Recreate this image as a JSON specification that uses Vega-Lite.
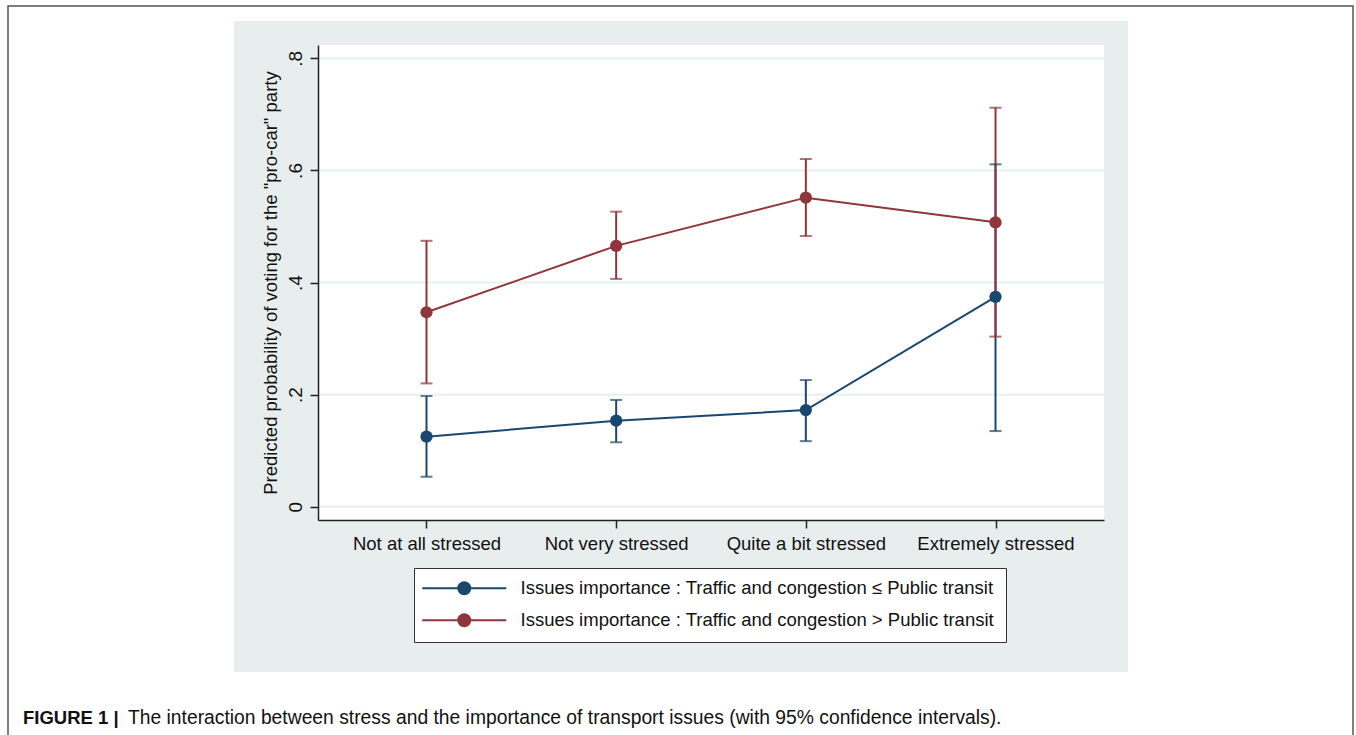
{
  "$schema": "https://vega.github.io/schema/vega-lite/v6.json",
  "width": 786,
  "height": 475,
  "autosize": {"type": "none"},
  "padding": {"left": 318, "top": 45, "right": 252, "bottom": 215},
  "background": "white",
  "config": {
    "view": {"stroke": null},
    "font": "Liberation Sans"
  },
  "data": {
    "values": [
      {"stress": "Not at all stressed", "group": "Issues importance : Traffic and congestion ≤ Public transit", "p": 0.125, "lo": 0.0535, "hi": 0.1975},
      {"stress": "Not very stressed", "group": "Issues importance : Traffic and congestion ≤ Public transit", "p": 0.1535, "lo": 0.115, "hi": 0.1905},
      {"stress": "Quite a bit stressed", "group": "Issues importance : Traffic and congestion ≤ Public transit", "p": 0.1725, "lo": 0.117, "hi": 0.226},
      {"stress": "Extremely stressed", "group": "Issues importance : Traffic and congestion ≤ Public transit", "p": 0.3745, "lo": 0.135, "hi": 0.611},
      {"stress": "Not at all stressed", "group": "Issues importance : Traffic and congestion > Public transit", "p": 0.347, "lo": 0.22, "hi": 0.4745},
      {"stress": "Not very stressed", "group": "Issues importance : Traffic and congestion > Public transit", "p": 0.4655, "lo": 0.4065, "hi": 0.5265},
      {"stress": "Quite a bit stressed", "group": "Issues importance : Traffic and congestion > Public transit", "p": 0.5515, "lo": 0.483, "hi": 0.6205},
      {"stress": "Extremely stressed", "group": "Issues importance : Traffic and congestion > Public transit", "p": 0.5075, "lo": 0.3035, "hi": 0.712}
    ]
  },
  "layer": [
    {
      "data": {"values": [{}]},
      "mark": {"type": "rect", "fill": "#e8eeee"},
      "encoding": {"x": {"value": -84}, "x2": {"value": 810}, "y": {"value": -24}, "y2": {"value": 627}}
    },
    {
      "data": {"values": [{}]},
      "mark": {"type": "rect", "filled": false, "fill": null, "stroke": "#555", "strokeWidth": 1.5},
      "encoding": {"x": {"value": -310}, "x2": {"value": 1035}, "y": {"value": -39}, "y2": {"value": 720}}
    },
    {
      "data": {"values": [{"t": "FIGURE 1 |"}]},
      "mark": {"type": "text", "align": "left", "baseline": "alphabetic", "font": "Liberation Sans", "fontSize": 18.5, "fontWeight": "bold", "color": "#111"},
      "encoding": {"text": {"field": "t"}, "x": {"value": -295}, "y": {"value": 679}}
    },
    {
      "data": {"values": [{"t": "The interaction between stress and the importance of transport issues (with 95% confidence intervals)."}]},
      "mark": {"type": "text", "align": "left", "baseline": "alphabetic", "font": "Liberation Sans", "fontSize": 19.3, "color": "#111"},
      "encoding": {"text": {"field": "t"}, "x": {"value": -190}, "y": {"value": 679}}
    },
    {
      "data": {"values": [{}]},
      "mark": {"type": "rect", "fill": "white"},
      "encoding": {"x": {"value": 0}, "x2": {"value": 786}, "y": {"value": 0}, "y2": {"value": 475}}
    },
    {
      "data": {"values": [{"tick": 0}, {"tick": 0.2}, {"tick": 0.4}, {"tick": 0.6}, {"tick": 0.8}]},
      "mark": {"type": "rule", "color": "#e6eff1", "strokeWidth": 2},
      "encoding": {
        "y": {"field": "tick", "type": "quantitative", "title": "Predicted probability of voting for the \"pro-car\" party", "scale": {"domain": [-0.0237, 0.8239], "nice": false, "zero": false},
          "axis": {"zindex": 1, "grid": false, "domainColor": "#222", "domainWidth": 1.5, "tickColor": "#222", "tickWidth": 1.5, "tickSize": 8, "labelFont": "Liberation Sans", "labelFontSize": 19, "labelColor": "#111", "titleFont": "Liberation Sans", "titleFontSize": 18.5, "titleFontWeight": "normal", "titleColor": "#111", "labelAngle": -90, "labelPadding": 5, "titlePadding": 6, "values": [0, 0.2, 0.4, 0.6, 0.8], "labelExpr": "datum.value == 0 ? '0' : replace(format(datum.value, '.1f'), '0.', '.')"}}
      }
    },
    {
      "mark": {"type": "rule", "strokeWidth": 2},
      "encoding": {
        "x": {"field": "stress", "type": "nominal", "title": null, "sort": ["Not at all stressed", "Not very stressed", "Quite a bit stressed", "Extremely stressed"], "scale": {"type": "point", "padding": 0.572},
          "axis": {"zindex": 1, "grid": false, "domainColor": "#222", "domainWidth": 1.5, "tickColor": "#222", "tickWidth": 1.5, "tickSize": 8, "labelFont": "Liberation Sans", "labelFontSize": 18.5, "labelColor": "#111", "labelAngle": 0, "labelPadding": 6}},
        "y": {"field": "lo", "type": "quantitative", "title": "Predicted probability of voting for the \"pro-car\" party", "scale": {"domain": [-0.0237, 0.8239], "nice": false, "zero": false}},
        "y2": {"field": "hi"},
        "color": {"field": "group", "type": "nominal", "scale": {"domain": ["Issues importance : Traffic and congestion ≤ Public transit", "Issues importance : Traffic and congestion > Public transit"], "range": ["#1a476f", "#90353b"]}}
      }
    },
    {
      "mark": {"type": "tick", "thickness": 2, "size": 12, "orient": "horizontal"},
      "encoding": {
        "x": {"field": "stress", "type": "nominal", "title": null, "sort": ["Not at all stressed", "Not very stressed", "Quite a bit stressed", "Extremely stressed"], "scale": {"type": "point", "padding": 0.572}},
        "y": {"field": "lo", "type": "quantitative", "title": "Predicted probability of voting for the \"pro-car\" party", "scale": {"domain": [-0.0237, 0.8239], "nice": false, "zero": false}},
        "color": {"field": "group", "type": "nominal", "scale": {"domain": ["Issues importance : Traffic and congestion ≤ Public transit", "Issues importance : Traffic and congestion > Public transit"], "range": ["#1a476f", "#90353b"]}}
      }
    },
    {
      "mark": {"type": "tick", "thickness": 2, "size": 12, "orient": "horizontal"},
      "encoding": {
        "x": {"field": "stress", "type": "nominal", "title": null, "sort": ["Not at all stressed", "Not very stressed", "Quite a bit stressed", "Extremely stressed"], "scale": {"type": "point", "padding": 0.572}},
        "y": {"field": "hi", "type": "quantitative", "title": "Predicted probability of voting for the \"pro-car\" party", "scale": {"domain": [-0.0237, 0.8239], "nice": false, "zero": false}},
        "color": {"field": "group", "type": "nominal", "scale": {"domain": ["Issues importance : Traffic and congestion ≤ Public transit", "Issues importance : Traffic and congestion > Public transit"], "range": ["#1a476f", "#90353b"]}}
      }
    },
    {
      "mark": {"type": "line", "strokeWidth": 2},
      "encoding": {
        "x": {"field": "stress", "type": "nominal", "title": null, "sort": ["Not at all stressed", "Not very stressed", "Quite a bit stressed", "Extremely stressed"], "scale": {"type": "point", "padding": 0.572}},
        "y": {"field": "p", "type": "quantitative", "title": "Predicted probability of voting for the \"pro-car\" party", "scale": {"domain": [-0.0237, 0.8239], "nice": false, "zero": false}},
        "color": {"field": "group", "type": "nominal", "scale": {"domain": ["Issues importance : Traffic and congestion ≤ Public transit", "Issues importance : Traffic and congestion > Public transit"], "range": ["#1a476f", "#90353b"]}}
      }
    },
    {
      "mark": {"type": "point", "filled": true, "size": 150, "opacity": 1},
      "encoding": {
        "x": {"field": "stress", "type": "nominal", "title": null, "sort": ["Not at all stressed", "Not very stressed", "Quite a bit stressed", "Extremely stressed"], "scale": {"type": "point", "padding": 0.572}},
        "y": {"field": "p", "type": "quantitative", "title": "Predicted probability of voting for the \"pro-car\" party", "scale": {"domain": [-0.0237, 0.8239], "nice": false, "zero": false}},
        "color": {
          "field": "group", "type": "nominal",
          "scale": {"domain": ["Issues importance : Traffic and congestion ≤ Public transit", "Issues importance : Traffic and congestion > Public transit"], "range": ["#1a476f", "#90353b"]},
          "legend": {
            "title": null,
            "zindex": 1,
            "orient": "none",
            "legendX": 96,
            "legendY": 523,
            "symbolType": "M-1.714,0H10.286M5.143,0A0.857,0.857,0,1,1,3.429,0A0.857,0.857,0,1,1,5.143,0Z",
            "symbolSize": 196,
            "symbolStrokeWidth": 2,
            "symbolOpacity": 1,
            "labelFont": "Liberation Sans",
            "labelFontSize": 18.5,
            "labelColor": "#111",
            "labelLimit": 0,
            "labelOffset": 77,
            "fillColor": "white",
            "strokeColor": "#333",
            "padding": 11,
            "rowPadding": 11,
            "encode": {"symbols": {"update": {"fillOpacity": {"value": 1}, "strokeOpacity": {"value": 1}, "opacity": {"value": 1}}}}
          }
        }
      }
    }
  ]
}
